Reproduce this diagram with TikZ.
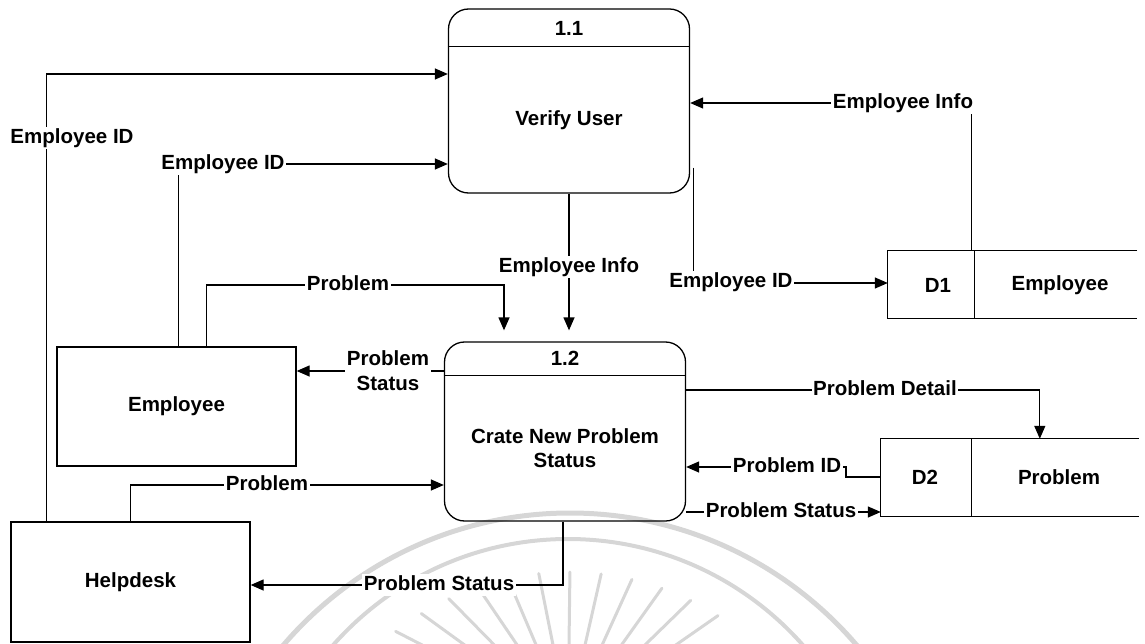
\documentclass[tikz,border=0pt]{standalone}
\usepackage{fontspec}
\setmainfont{Liberation Sans}
\usetikzlibrary{arrows.meta,calc}

\begin{document}
\begin{tikzpicture}[x=1pt,y=-1pt,
  every node/.style={font=\fontsize{20.5}{24.5}\selectfont\bfseries},
  wire/.style={draw=black,line width=1.3pt},
  flow/.style={wire,-{Triangle[length=13pt,width=11pt]}},
  proc/.style={wire,rounded corners=20pt,minimum width=241pt,inner sep=0pt},
  ent/.style={wire,inner sep=0pt},
  store/.style={inner sep=0pt},
  lbl/.style={fill=white,inner sep=1.5pt,text height=15pt,text depth=4.5pt},
  lbltwo/.style={fill=white,inner sep=1.5pt,align=center},
  seal/.style={draw=black!16,line cap=round}
]
\useasboundingbox (0,0) rectangle (1145,644);

% faint seal in the background
\begin{scope}
  \clip (0,0) rectangle (1145,644);
  \draw[seal,line width=5pt] (570,890) circle (377pt);
  \draw[seal,line width=4pt] (568,852) circle (313pt);
  \foreach \a in {-38,-31.6,...,38}{
    \coordinate (rayout) at ({568+280*sin(\a)},{852-280*cos(\a)});
    \draw[seal,line width=3pt] (rayout) -- ($(rayout)!85pt!(568,720)$);
  }
\end{scope}

% processes
\node[proc,minimum height=184pt] (p11) at (569,101) {};
\draw[wire] ($(p11.north west)+(0,38)$) -- ($(p11.north east)+(0,38)$);
\node (p11n) at (569,28) {1.1};
\node (p11t) at (569,120) {Verify User};

\node[proc,minimum height=179pt] (p12) at (565,431.5) {};
\draw[wire] ($(p12.north west)+(0,34)$) -- ($(p12.north east)+(0,34)$);
\node (p12n) at (565,358) {1.2};
\node[align=center] (p12t) at (565,448) {Crate New Problem\\Status};

% external entities
\node[ent,minimum width=239pt,minimum height=119pt] (emp) at (176.5,406.5) {Employee};
\node[ent,minimum width=239pt,minimum height=120pt] (help) at (130.5,582) {Helpdesk};

% data stores (open on the right)
\node[store,minimum width=249pt,minimum height=67pt] (d1) at (1012.5,284.5) {};
\draw[wire] (d1.north east) -- (d1.north west) -- (d1.south west) -- (d1.south east);
\draw[wire] ($(d1.north west)+(87,0)$) -- ($(d1.south west)+(87,0)$);
\node (d1id) at (938,285) {D1};
\node (d1nm) at (1060,285) {Employee};

\node[store,minimum width=258pt,minimum height=77pt] (d2) at (1010,477.5) {};
\draw[wire] (d2.north east) -- (d2.north west) -- (d2.south west) -- (d2.south east);
\draw[wire] ($(d2.north west)+(91,0)$) -- ($(d2.south west)+(91,0)$);
\node (d2id) at (925,477) {D2};
\node (d2nm) at (1059,477) {Problem};

% data flows
\draw[flow] ($(help.north west)+(36,0)$) |- (p11.west |- 0,74);
\node[lbl] (l1) at (72,138) {Employee ID};

\draw[flow] ($(emp.north west)+(122,0)$) |- (p11.west |- 0,164);
\node[lbl] (l2) at (223,164) {Employee ID};

\draw[flow] ($(d1.north west)+(84,0)$) |- (p11.east |- 0,103);
\node[lbl] (l3) at (903,103) {Employee Info};

\coordinate (p11out) at ($(p11.south east)+(3,-26)$);
\draw[flow] (p11out) |- (d1.west |- 0,283);
\node[lbl] (l4) at (731,282) {Employee ID};

\draw[flow,shorten >=11pt] (p11.south) -- (p11.south |- p12.north);
\node[lbl] (l5) at (569,267) {Employee Info};

\draw[flow,shorten >=11pt] ($(emp.north west)+(150,0)$) |- (504,285) -- (p12.north -| 504,0);
\node[lbl] (l6) at (348,285) {Problem};

\draw[flow] (p12.west |- 0,371) -- (emp.east |- 0,371);
\node[lbltwo] (l7) at (388,370.5) {Problem\\Status};

\draw[flow] ($(help.north west)+(120,0)$) |- (p12.west |- 0,485);
\node[lbl] (l8) at (267,485) {Problem};

\draw[flow] ($(p12.south)+(-2,0)$) |- (help.east |- 0,585);
\node[lbl] (l9) at (439,585) {Problem Status};

\draw[flow] (p12.east |- 0,390) -| ($(d2.north west)+(159,0)$);
\node[lbl] (l10) at (885,390) {Problem Detail};

\draw[flow] (d2.west |- 0,477) -- (846,477) -- (846,467) -- (p12.east |- 0,467);
\node[lbl] (l11) at (787,467) {Problem ID};

\draw[flow] (p12.east |- 0,512) -- (d2.west |- 0,512);
\node[lbl] (l12) at (781,512) {Problem Status};
\end{tikzpicture}
\end{document}
